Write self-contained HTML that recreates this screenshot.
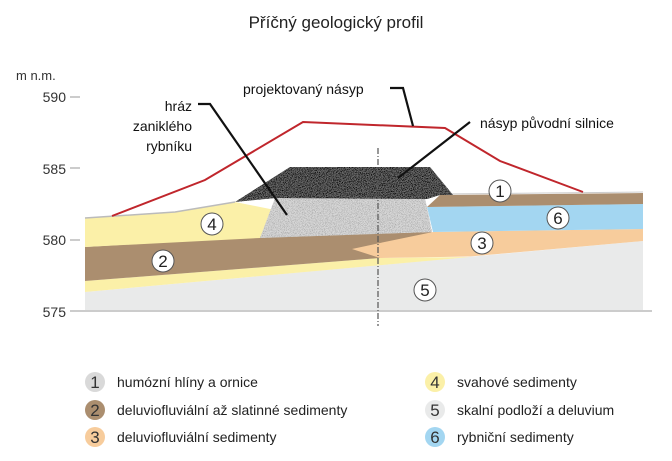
<!DOCTYPE html>
<html><head><meta charset="utf-8"><style>
html,body{margin:0;padding:0;background:#fff}
svg{display:block}
text{font-family:"Liberation Sans","DejaVu Sans",sans-serif}
</style></head><body>
<svg width="672" height="461" viewBox="0 0 672 461" xmlns="http://www.w3.org/2000/svg">
<defs>
<filter id="dark" x="0" y="0" width="100%" height="100%">
<feTurbulence type="fractalNoise" baseFrequency="1.2" numOctaves="2" seed="3" result="n"/>
<feColorMatrix in="n" type="matrix" values="0 0 0 0 0  0 0 0 0 0  0 0 0 0 0  0 0 0 -3.5 2.2" result="m"/>
<feComposite in="m" in2="SourceGraphic" operator="in"/>
<feComposite in2="SourceGraphic" operator="over"/>
</filter>
<filter id="light" x="0" y="0" width="100%" height="100%">
<feTurbulence type="fractalNoise" baseFrequency="1.3" numOctaves="2" seed="7" result="n"/>
<feColorMatrix in="n" type="matrix" values="0 0 0 0 0.35  0 0 0 0 0.35  0 0 0 0 0.35  0 0 0 -3 1.7" result="m"/>
<feComposite in="m" in2="SourceGraphic" operator="in"/>
<feComposite in2="SourceGraphic" operator="over"/>
</filter>
</defs>
<text x="336" y="28" font-size="17" text-anchor="middle" fill="#222">Příčný geologický profil</text>
<text x="16" y="80" font-size="13" fill="#333">m n.m.</text>
<g font-size="14" fill="#333" text-anchor="end">
<text x="66" y="102">590</text><text x="66" y="174">585</text><text x="66" y="245">580</text><text x="66" y="317">575</text>
</g>
<g stroke="#999" stroke-width="1">
<line x1="70" y1="97" x2="80" y2="97"/><line x1="70" y1="168" x2="80" y2="168"/><line x1="70" y1="240" x2="80" y2="240"/>
<line x1="70" y1="311" x2="652" y2="311"/>
</g>
<!-- 5 gray base -->
<polygon points="85,292 643,241 643,310 85,310" fill="#e9eaea"/>
<!-- lower yellow -->
<polygon points="85,281 380,258 470,257 85,292" fill="#fbf0a8"/>
<!-- brown 2 -->
<polygon points="85,247 260,237 432,232 380,258 85,281" fill="#ab8e6f"/>
<!-- peach 3 -->
<polygon points="433,232 643,229 643,241 470,256.5 380,258 352,249 380,243" fill="#f7cc9c"/>
<!-- yellow 4 -->
<polygon points="85,218 175,212 235,202 275,210 260,238 85,247" fill="#fbf0a8"/>
<polyline points="85,218 175,212 235,202" fill="none" stroke="#bbb" stroke-width="1.5"/>
<!-- blue 6 -->
<polygon points="427,207 643,204 643,229 433,232" fill="#a3d6f1"/>
<!-- brown 1 -->
<polygon points="440,195 643,193 643,204 427,207" fill="#ab8e6f"/>
<line x1="440" y1="194" x2="643" y2="192" stroke="#ccc" stroke-width="1"/>
<!-- light speckled core -->
<polygon points="275,198 425,198 432,232 260,238" fill="#d8d8d8" filter="url(#light)"/>
<!-- dark cap -->
<polygon points="235,202 290,167 430,167 453,195 440,195 427,199 275,198" fill="#6e6e6e" filter="url(#dark)"/>
<!-- red line -->
<polyline points="112,216 205,180 303,122 445,128 500,161 583,192" fill="none" stroke="#c0262c" stroke-width="2"/>
<!-- axis dashed -->
<line x1="378" y1="148" x2="378" y2="326" stroke="#555" stroke-width="1.2" stroke-dasharray="6,2,1,2"/>
<!-- leaders -->
<g stroke="#111" stroke-width="2.2" fill="none">
<polyline points="198,104 210,104 287,215"/>
<polyline points="390,88 403,88 413,126"/>
<line x1="470" y1="122" x2="398" y2="178"/>
</g>
<g font-size="14" fill="#111">
<text x="192" y="111" text-anchor="end">hráz</text>
<text x="192" y="131" text-anchor="end">zaniklého</text>
<text x="192" y="151" text-anchor="end">rybníku</text>
<text x="243" y="94">projektovaný násyp</text>
<text x="480" y="128">násyp původní silnice</text>
</g>
<!-- circled numbers -->
<g font-size="17" text-anchor="middle" fill="#222">
<g stroke="#555" stroke-width="1" fill="#fff">
<circle cx="212" cy="224" r="11"/><circle cx="163" cy="261" r="11"/><circle cx="500" cy="191" r="11"/>
<circle cx="558" cy="218" r="11"/><circle cx="482" cy="243" r="11"/><circle cx="425" cy="290" r="11"/>
</g>
<text x="212" y="230">4</text><text x="163" y="267">2</text><text x="500" y="197">1</text>
<text x="558" y="224">6</text><text x="482" y="249">3</text><text x="425" y="296">5</text>
</g>
<!-- legend -->
<g>
<circle cx="95" cy="382" r="10" fill="#d9d9d9"/><circle cx="95" cy="410" r="10" fill="#ab8e6f"/><circle cx="95" cy="437" r="10" fill="#f7cc9c"/>
<circle cx="435" cy="382" r="10" fill="#fbf0a8"/><circle cx="435" cy="410" r="10" fill="#e9eaea"/><circle cx="435" cy="437" r="10" fill="#a3d6f1"/>
</g>
<g font-size="17" text-anchor="middle" fill="#333">
<text x="95" y="388">1</text><text x="95" y="416">2</text><text x="95" y="443">3</text>
<text x="435" y="388">4</text><text x="435" y="416">5</text><text x="435" y="443">6</text>
</g>
<g font-size="14" fill="#222">
<text x="117" y="387">humózní hlíny a ornice</text>
<text x="117" y="415">deluviofluviální až slatinné sedimenty</text>
<text x="117" y="442">deluviofluviální sedimenty</text>
<text x="457" y="387">svahové sedimenty</text>
<text x="457" y="415">skalní podloží a deluvium</text>
<text x="457" y="442">rybniční sedimenty</text>
</g>
</svg>
</body></html>
